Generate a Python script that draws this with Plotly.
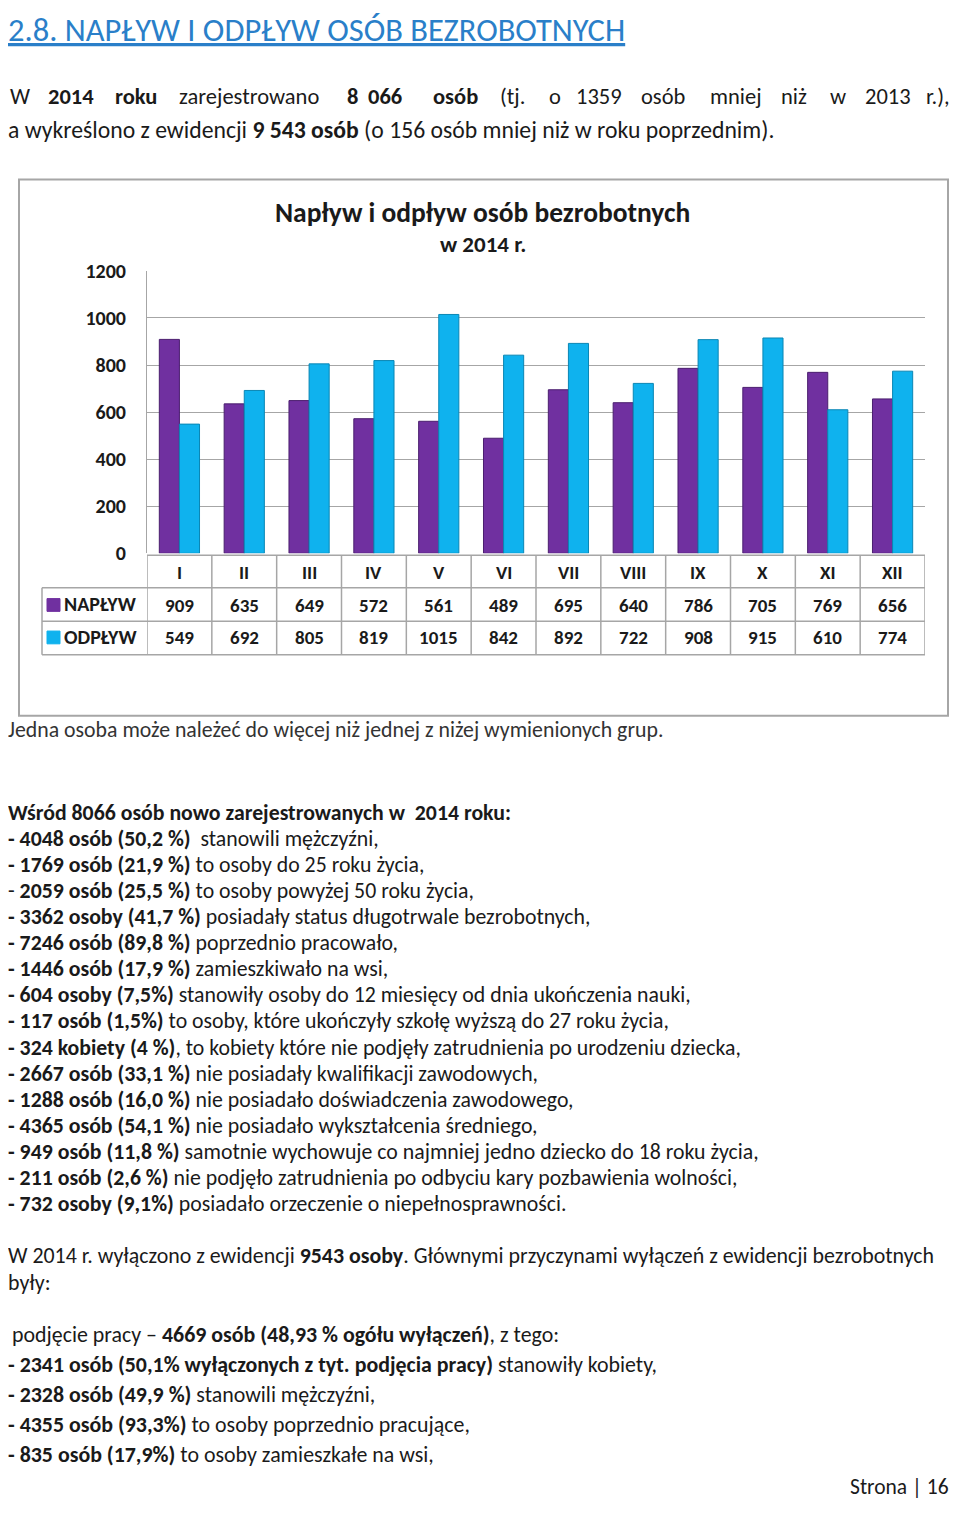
import plotly.graph_objects as go

# page is 960x1514 with an 8px body margin; the figure sits at page (8, 8)
FW, FH = 944, 1498
OFF = 8
def X(px): return (px - OFF) / FW
def Y(py): return 1 - (py - OFF) / FH

FONT = "Carlito, Lato, sans-serif"
TXT = "#1a1a1a"

# ---------------- data ----------------
months = ["I", "II", "III", "IV", "V", "VI", "VII", "VIII", "IX", "X", "XI", "XII"]
naplyw = [909, 635, 649, 572, 561, 489, 695, 640, 786, 705, 769, 656]
odplyw = [549, 692, 805, 819, 1015, 842, 892, 722, 908, 915, 610, 774]
series_names = ["NAPŁYW", "ODPŁYW"]
y_ticks = [0, 200, 400, 600, 800, 1000, 1200]

PURPLE, CYAN = "#7030A0", "#0FB2EE"

fig = go.Figure()
fig.add_trace(go.Bar(x=months, y=naplyw, name=series_names[0],
                     marker=dict(color=PURPLE, line=dict(color="#4A1E6E", width=1))))
fig.add_trace(go.Bar(x=months, y=odplyw, name=series_names[1],
                     marker=dict(color=CYAN, line=dict(color="#0A86B4", width=1))))

annotations = []
shapes = []

def txt(x, y, text, size, anchor="left", color=TXT, family=FONT, **kw):
    annotations.append(dict(x=X(x), y=Y(y), xref="paper", yref="paper", text=text,
                            showarrow=False, xanchor=anchor, yanchor="middle",
                            font=dict(size=size, color=color, family=family), **kw))

# heading
txt(6, 18, "<u>2.8. NAPŁYW I ODPŁYW OSÓB BEZROBOTNYCH</u>", 32.5, color="#2A7FC9")

# justified first line
words = [(10, "W"), (48, "<b>2014</b>"), (115, "<b>roku</b>"), (179, "zarejestrowano"),
         (347, "<b>8</b>"), (368, "<b>066</b>"), (433, "<b>osób</b>"), (500, "(tj."),
         (549, "o"), (576, "1359"), (641, "osób"), (710, "mniej"), (781, "niż"),
         (830, "w"), (865, "2013"), (926, "r.),")]
for x, w in words:
    txt(x - 2, 86, w, 22.5)
txt(6, 119, "a wykreślono z ewidencji <b>9 543 osób</b> (o 156 osób mniej niż w roku poprzednim).", 23.7)

# chart box
shapes.append(dict(type="rect", xref="paper", yref="paper", x0=X(19), x1=X(948), y0=Y(715), y1=Y(170),
                   line=dict(color="#A6A6A6", width=2), layer="below"))
txt(482, 204, "<b>Napływ i odpływ osób bezrobotnych</b>", 27.5, anchor="center")
txt(483, 236, "<b>w 2014 r.</b>", 23, anchor="center")

# data table
row_y = [552, 585, 619, 653]
line_col = "#A6A6A6"
for i, yy in enumerate(row_y):
    if i == 0:
        shapes.append(dict(type="line", xref="x", yref="paper", x0=-0.5, x1=11.5, y0=Y(yy), y1=Y(yy),
                           line=dict(color=line_col, width=1.5)))
    else:
        shapes.append(dict(type="line", xref="paper", yref="paper", x0=X(42), x1=X(925), y0=Y(yy), y1=Y(yy),
                           line=dict(color=line_col, width=1.5)))
for k in range(len(months) + 1):
    shapes.append(dict(type="line", xref="x", yref="paper", x0=k - 0.5, x1=k - 0.5, y0=Y(653), y1=Y(552),
                       line=dict(color=line_col, width=1.5)))
shapes.append(dict(type="line", xref="paper", yref="paper", x0=X(42), x1=X(42), y0=Y(653), y1=Y(585),
                   line=dict(color=line_col, width=1.5)))
# legend keys
for yy, col, name in [(602, PURPLE, series_names[0]), (635, CYAN, series_names[1])]:
    shapes.append(dict(type="rect", xref="paper", yref="paper", x0=X(47), x1=X(60), y0=Y(yy + 7), y1=Y(yy - 6),
                       fillcolor=col, line=dict(color=col, width=1)))
    txt(62, yy, f"<b>{name}</b>", 20)

for i, m in enumerate(months):
    for yy, val in [(569, m), (603, naplyw[i]), (636, odplyw[i])]:
        annotations.append(dict(x=m, y=Y(yy), xref="x", yref="paper", text=f"<b>{val}</b>",
                                showarrow=False, xanchor="center", yanchor="middle",
                                font=dict(size=19, color=TXT, family=FONT)))

# caption
txt(6, 729, "Jedna osoba może należeć do więcej niż jednej z niżej wymienionych grup.", 21.8, color="#333333")

lines = [
    "<b>Wśród 8066 osób nowo zarejestrowanych w  2014 roku:</b>",
    "<b>- 4048 osób (50,2 %)</b>  stanowili mężczyźni,",
    "<b>- 1769 osób (21,9 %)</b> to osoby do 25 roku życia,",
    "- <b>2059 osób (25,5 %)</b> to osoby powyżej 50 roku życia,",
    "<b>- 3362 osoby (41,7 %)</b> posiadały status długotrwale bezrobotnych,",
    "<b>- 7246 osób (89,8 %)</b> poprzednio pracowało,",
    "<b>- 1446 osób (17,9 %)</b> zamieszkiwało na wsi,",
    "<b>- 604 osoby (7,5%)</b> stanowiły osoby do 12 miesięcy od dnia ukończenia nauki,",
    "<b>- 117 osób (1,5%)</b> to osoby, które ukończyły szkołę wyższą do 27 roku życia,",
    "<b>- 324 kobiety (4 %)</b>, to kobiety które nie podjęły zatrudnienia po urodzeniu dziecka,",
    "<b>- 2667 osób (33,1 %)</b> nie posiadały kwalifikacji zawodowych,",
    "<b>- 1288 osób (16,0 %)</b> nie posiadało doświadczenia zawodowego,",
    "<b>- 4365 osób (54,1 %)</b> nie posiadało wykształcenia średniego,",
    "<b>- 949 osób (11,8 %)</b> samotnie wychowuje co najmniej jedno dziecko do 18 roku życia,",
    "<b>- 211 osób (2,6 %)</b> nie podjęło zatrudnienia po odbyciu kary pozbawienia wolności,",
    "<b>- 732 osoby (9,1%)</b> posiadało orzeczenie o niepełnosprawności.",
]
for i, l in enumerate(lines):
    txt(6, 813 + i * 26.53, l, 21.8)

bottom = [
    (1264, 6, "W 2014 r. wyłączono z ewidencji <b>9543 osoby</b>. Głównymi przyczynami wyłączeń z ewidencji bezrobotnych"),
    (1291, 6, "były:"),
    (1344, 10, "podjęcie pracy – <b>4669 osób (48,93 % ogółu wyłączeń)</b>, z tego:"),
    (1374, 6, "<b>- 2341 osób (50,1% wyłączonych z tyt. podjęcia pracy)</b> stanowiły kobiety,"),
    (1405, 6, "<b>- 2328 osób (49,9 %)</b> stanowili mężczyźni,"),
    (1435, 6, "<b>- 4355 osób (93,3%)</b> to osoby poprzednio pracujące,"),
    (1466, 6, "<b>- 835 osób (17,9%)</b> to osoby zamieszkałe na wsi,"),
]
for yy, xx, l in bottom:
    txt(xx, yy, l, 21.9)
txt(951, 1499, "Strona | 16", 21.5, anchor="right")

fig.update_layout(
    width=FW, height=FH, autosize=False,
    margin=dict(l=0, r=0, t=0, b=0),
    paper_bgcolor="white", plot_bgcolor="white",
    showlegend=False,
    barmode="group", bargap=0.38, bargroupgap=0,
    font=dict(family=FONT, color=TXT),
    xaxis=dict(domain=[X(147), X(925)], range=[-0.5, 11.5], showticklabels=False,
               showgrid=False, zeroline=False, showline=False, ticks=""),
    yaxis=dict(domain=[Y(550), Y(263)], range=[0, 1200], tickvals=y_ticks,
               ticktext=[f"<b>{v}</b>" for v in y_ticks],
               tickfont=dict(size=20, color=TXT, family=FONT),
               showgrid=True, gridcolor="#A6A6A6", gridwidth=1, zeroline=False,
               showline=True, linecolor="#A6A6A6", linewidth=1, ticks="",
               ticklabelstandoff=16),
    annotations=annotations, shapes=shapes,
)

fig.write_html("out.html")
